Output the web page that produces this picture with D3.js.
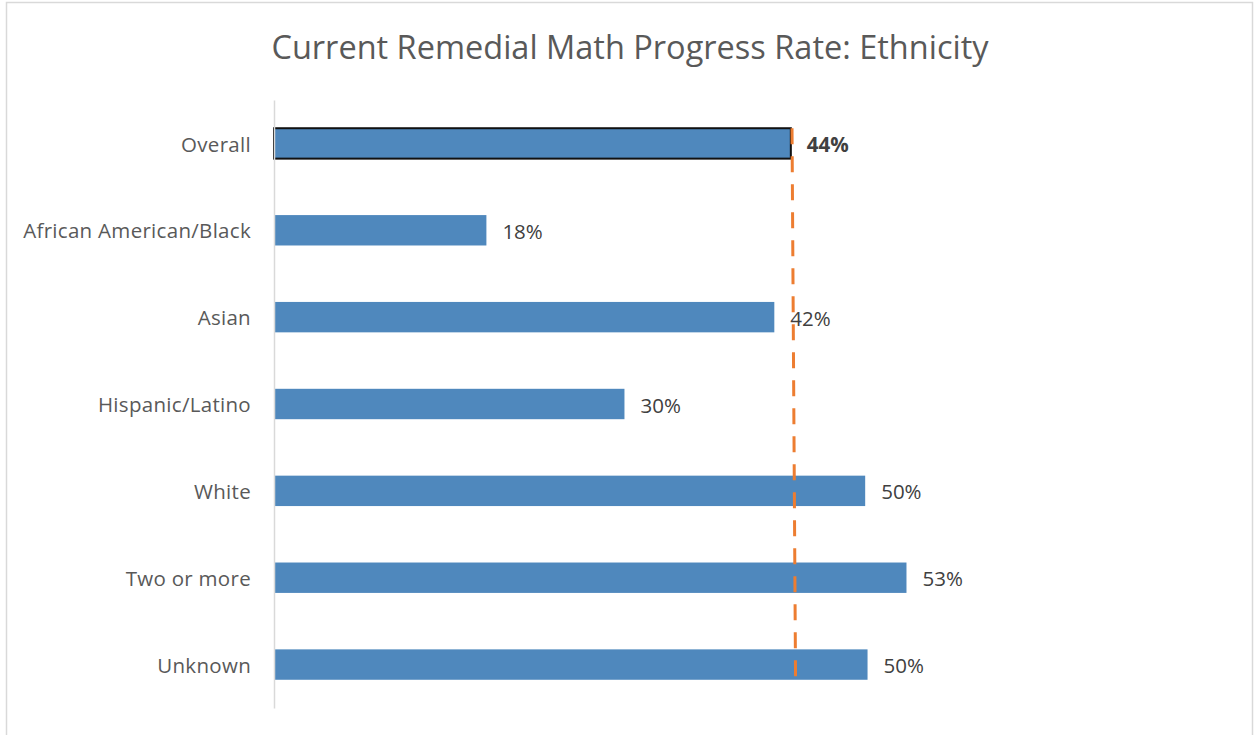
<!DOCTYPE html>
<html>
<head>
<meta charset="utf-8">
<script src="https://cdn.jsdelivr.net/npm/d3@7"></script>
<style>
  body { margin: 0; background: #fff; }
  text { font-family: "Open Sans", sans-serif; }
</style>
</head>
<body>
<div id="chart"></div>
<script>
// data
var categories = ["Overall", "African American/Black", "Asian", "Hispanic/Latino", "White", "Two or more", "Unknown"];
var rates = [43.8, 18.0, 42.4, 29.7, 50.1, 53.6, 50.3];
var rateLabels = ["44%", "18%", "42%", "30%", "50%", "53%", "50%"];
// overall reference line (top and bottom end)
var overallLine = [43.9, 44.2];

var width = 1254;
var height = 735;

var svg = d3.select("#chart")
  .append("svg")
  .attr("width", width)
  .attr("height", height);

// chart border
svg.append("rect")
  .attr("x", 6.5)
  .attr("y", 2.5)
  .attr("width", 1246)
  .attr("height", 760)
  .attr("fill", "none")
  .attr("stroke", "#d9d9d9")
  .attr("stroke-width", 1.5);

var x0 = 274;
var x = d3.scaleLinear().domain([0, 100]).range([x0, x0 + 1180]);

var y = d3.scaleBand()
  .domain(categories)
  .range([100, 708])
  .paddingInner(0.65)
  .paddingOuter(0.325);

svg.append("text")
  .attr("x", 630)
  .attr("y", 59)
  .attr("text-anchor", "middle")
  .attr("font-size", 32.5)
  .attr("fill", "#595959")
  .text("Current Remedial Math Progress Rate: Ethnicity");

// bars
svg.selectAll("rect.bar")
  .data(categories)
  .enter()
  .append("rect")
  .attr("class", "bar")
  .attr("x", x(0))
  .attr("y", function (d) { return y(d); })
  .attr("width", function (d, i) { return x(rates[i]) - x(0); })
  .attr("height", y.bandwidth())
  .attr("fill", "#4f88bd")
  .attr("stroke", function (d, i) { return i === 0 ? "#111" : "none"; })
  .attr("stroke-width", 2);

// category axis
var axis = d3.axisLeft(y).tickSize(0).tickPadding(23);
var gAxis = svg.append("g")
  .attr("transform", "translate(" + x0 + ",0)")
  .call(axis);
gAxis.select(".domain").attr("stroke", "#d9d9d9").attr("stroke-width", 1.5);
gAxis.selectAll("text")
  .attr("font-size", 20.5)
  .attr("letter-spacing", 0.3)
  .attr("dy", "0.4em")
  .attr("fill", "#595959")
  .style("font-family", "'Open Sans', sans-serif");

// dashed overall line
var yTop = y(categories[0]);
var yBot = y(categories[categories.length - 1]) + y.bandwidth();
svg.append("line")
  .attr("x1", x(overallLine[0]))
  .attr("y1", yTop)
  .attr("x2", x(overallLine[1]))
  .attr("y2", yBot)
  .attr("stroke", "#ed7d31")
  .attr("stroke-width", 3)
  .attr("stroke-dasharray", "16,12");

// value labels
svg.selectAll("text.val")
  .data(categories)
  .enter()
  .append("text")
  .attr("class", "val")
  .attr("x", function (d, i) { return x(rates[i]) + 16; })
  .attr("y", function (d) { return y(d) + y.bandwidth() / 2; })
  .attr("dy", "0.42em")
  .attr("font-size", 20.5)
  .attr("font-weight", function (d, i) { return i === 0 ? "bold" : "normal"; })
  .attr("fill", "#404040")
  .text(function (d, i) { return rateLabels[i]; });
</script>
</body>
</html>
